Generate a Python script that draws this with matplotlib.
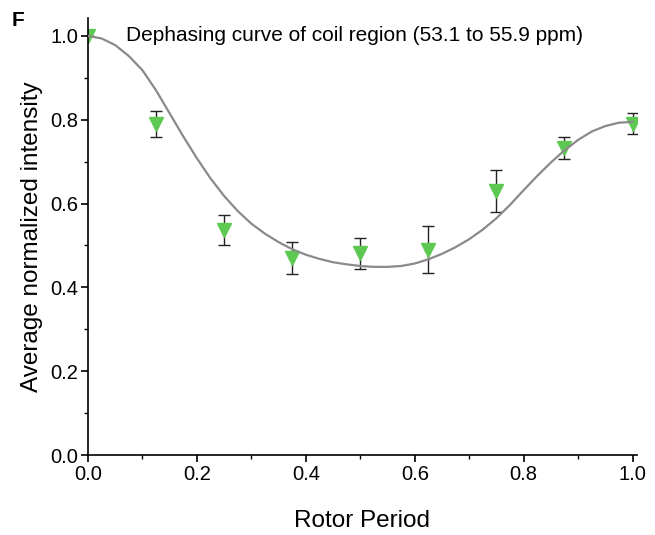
import matplotlib
matplotlib.use("Agg")
import matplotlib.pyplot as plt
from matplotlib.ticker import MultipleLocator

plt.rcParams['font.family'] = ['Liberation Sans', 'DejaVu Sans']

# measured points (rotor period fraction)
rotor = [0.0, 0.125, 0.25, 0.375, 0.5, 0.625, 0.75, 0.875, 1.0]
intensity = [1.0, 0.79, 0.537, 0.471, 0.482, 0.49, 0.63, 0.733, 0.79]
err = [0.0, 0.03, 0.035, 0.038, 0.037, 0.056, 0.05, 0.026, 0.025]

# fitted dephasing curve
fit_x = [0.0, 0.025, 0.05, 0.075, 0.1, 0.125, 0.15, 0.175, 0.2, 0.225, 0.25,
         0.275, 0.3, 0.325, 0.35, 0.375, 0.4, 0.425, 0.45, 0.475, 0.5,
         0.525, 0.55, 0.575, 0.6, 0.625, 0.65, 0.675, 0.7, 0.725, 0.75,
         0.775, 0.8, 0.825, 0.85, 0.875, 0.9, 0.925, 0.95, 0.975, 1.0]
fit_y = [1.0, 0.994, 0.978, 0.952, 0.918, 0.870, 0.815, 0.760, 0.708, 0.660, 0.618,
         0.582, 0.552, 0.528, 0.508, 0.491, 0.478, 0.468, 0.460, 0.455, 0.451,
         0.449, 0.449, 0.451, 0.457, 0.467, 0.480, 0.496, 0.515, 0.538, 0.565,
         0.597, 0.632, 0.666, 0.698, 0.727, 0.752, 0.772, 0.785, 0.793, 0.795]

fig = plt.figure(figsize=(6.55, 5.35), dpi=100)
ax = fig.add_axes([0.1344, 0.1495, 0.838, 0.817])

ax.errorbar(rotor, intensity, yerr=err, fmt='v', color='#5ec952', ms=10,
            ecolor='#222222', elinewidth=1.0, capsize=4, capthick=1.0, zorder=2)
ax.plot(fit_x, fit_y, color='#8a8a8a', lw=1.6, zorder=3)

ax.set_xlim(0, 1.008)
ax.set_ylim(0, 1.043)
ax.xaxis.set_major_locator(MultipleLocator(0.2))
ax.xaxis.set_minor_locator(MultipleLocator(0.1))
ax.yaxis.set_major_locator(MultipleLocator(0.2))
ax.yaxis.set_minor_locator(MultipleLocator(0.1))
ax.xaxis.set_major_formatter(plt.FormatStrFormatter('%.1f'))
ax.yaxis.set_major_formatter(plt.FormatStrFormatter('%.1f'))

for s in ['top', 'right']:
    ax.spines[s].set_visible(False)
for s in ['left', 'bottom']:
    ax.spines[s].set_linewidth(1.2)
ax.tick_params(which='major', direction='out', length=5, width=1.2, labelsize=14.5, pad=2)
ax.tick_params(which='minor', direction='out', length=3, width=1.0)

ax.set_xlabel('Rotor Period', fontsize=17.5, labelpad=19)
ax.set_ylabel('Average normalized intensity', fontsize=17.5, labelpad=5)

ax.text(0.069, 1.0, 'Dephasing curve of coil region (53.1 to 55.9 ppm)',
        fontsize=15, va='center', ha='left')
fig.text(0.018, 0.962, 'F', fontsize=15, fontweight='bold', va='center', ha='left')

fig.savefig('out.png', dpi=100)
